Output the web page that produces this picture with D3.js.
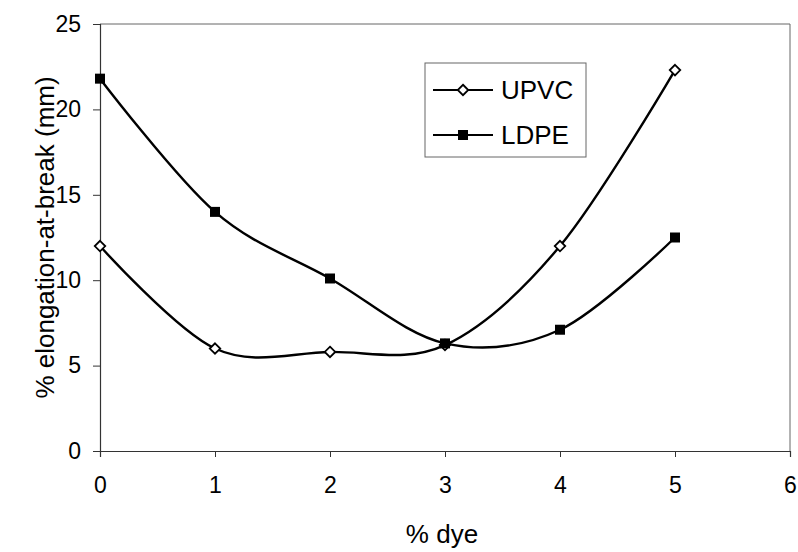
<!DOCTYPE html>
<html lang="en">
<head>
    <meta charset="UTF-8">
    <title>% elongation-at-break vs % dye</title>
    <style>
        body { margin: 0; background: #fff; }
        svg text { font-family: "Liberation Sans", Arial, sans-serif; fill: #000; }
    </style>
</head>
<body>
    <script src="https://d3js.org/d3.v7.min.js"></script>
    <div id="chart"></div>

    <script>
        // data
        const dye = [0, 1, 2, 3, 4, 5];
        const upvc = [12, 6, 5.8, 6.2, 12, 22.3];
        const ldpe = [21.8, 14, 10.1, 6.3, 7.1, 12.5];
        const xTicks = [0, 1, 2, 3, 4, 5, 6];
        const yTicks = [0, 5, 10, 15, 20, 25];

        const W = 798, H = 552;
        const margin = { top: 24, right: 8, bottom: 101, left: 100 };
        const width = W - margin.left - margin.right;
        const height = H - margin.top - margin.bottom;

        const svg = d3.select("#chart").append("svg")
            .attr("width", W)
            .attr("height", H);

        const g = svg.append("g")
            .attr("transform", "translate(" + margin.left + "," + margin.top + ")");

        const x = d3.scaleLinear().domain([0, 6]).range([0, width]);
        const y = d3.scaleLinear().domain([0, 25]).range([height, 0]);

        // frame: top and right
        g.append("line").attr("x1", 0).attr("x2", width).attr("y1", 0).attr("y2", 0)
            .attr("stroke", "#666").attr("stroke-width", 1);
        g.append("line").attr("x1", width).attr("x2", width).attr("y1", 0).attr("y2", height)
            .attr("stroke", "#666").attr("stroke-width", 1);

        // axes
        const xAxis = g.append("g")
            .attr("transform", "translate(0," + height + ")")
            .call(d3.axisBottom(x).tickValues(xTicks).tickSize(6).tickPadding(20).tickFormat(d3.format("d")));
        const yAxis = g.append("g")
            .call(d3.axisLeft(y).tickValues(yTicks).tickSize(7).tickPadding(12).tickFormat(d3.format("d")));

        [xAxis, yAxis].forEach(a => {
            a.select(".domain").attr("stroke", "#333").attr("stroke-width", 1.2);
            a.selectAll(".tick line").attr("stroke", "#333");
            a.selectAll(".tick text").style("font-size", "23px").attr("fill", "#000");
        });

        // axis titles
        svg.append("text")
            .attr("x", margin.left + x(3) - 3)
            .attr("y", 543)
            .attr("text-anchor", "middle")
            .style("font-size", "26px")
            .text("% dye");

        svg.append("text")
            .attr("transform", "translate(54," + (margin.top + height / 2) + ") rotate(-90)")
            .attr("text-anchor", "middle")
            .style("font-size", "26px")
            .text("% elongation-at-break (mm)");

        // smoothed lines
        const line = d3.line()
            .x(d => x(d[0]))
            .y(d => y(d[1]))
            .curve(d3.curveCardinal.tension(0));

        const upvcPts = dye.map((d, i) => [d, upvc[i]]);
        const ldpePts = dye.map((d, i) => [d, ldpe[i]]);

        [upvcPts, ldpePts].forEach(pts => {
            g.append("path")
                .datum(pts)
                .attr("fill", "none")
                .attr("stroke", "#000")
                .attr("stroke-width", 2.4)
                .attr("d", line);
        });

        const diamond = d3.symbol().type(d3.symbolDiamond2).size(70);
        const square = d3.symbol().type(d3.symbolSquare).size(100);

        g.selectAll(".upvc")
            .data(upvcPts)
            .enter().append("path")
            .attr("class", "upvc")
            .attr("transform", d => "translate(" + x(d[0]) + "," + y(d[1]) + ")")
            .attr("d", diamond)
            .attr("fill", "#fff")
            .attr("stroke", "#000")
            .attr("stroke-width", 1.8);

        g.selectAll(".ldpe")
            .data(ldpePts)
            .enter().append("path")
            .attr("class", "ldpe")
            .attr("transform", d => "translate(" + x(d[0]) + "," + y(d[1]) + ")")
            .attr("d", square)
            .attr("fill", "#000");

        // legend
        const legend = svg.append("g");
        legend.append("rect")
            .attr("x", 425).attr("y", 63)
            .attr("width", 161).attr("height", 94)
            .attr("fill", "#fff")
            .attr("stroke", "#666")
            .attr("stroke-width", 1);

        const items = [
            { name: "UPVC", sym: diamond, fill: "#fff", cy: 90 },
            { name: "LDPE", sym: square, fill: "#000", cy: 135 }
        ];
        items.forEach(it => {
            legend.append("line")
                .attr("x1", 433).attr("x2", 493)
                .attr("y1", it.cy).attr("y2", it.cy)
                .attr("stroke", "#000").attr("stroke-width", 2);
            legend.append("path")
                .attr("transform", "translate(463," + it.cy + ")")
                .attr("d", it.sym)
                .attr("fill", it.fill)
                .attr("stroke", "#000")
                .attr("stroke-width", it.fill === "#fff" ? 1.8 : 0);
            legend.append("text")
                .attr("x", 501).attr("y", it.cy + 9)
                .style("font-size", "26px")
                .text(it.name);
        });
    </script>
</body>
</html>
